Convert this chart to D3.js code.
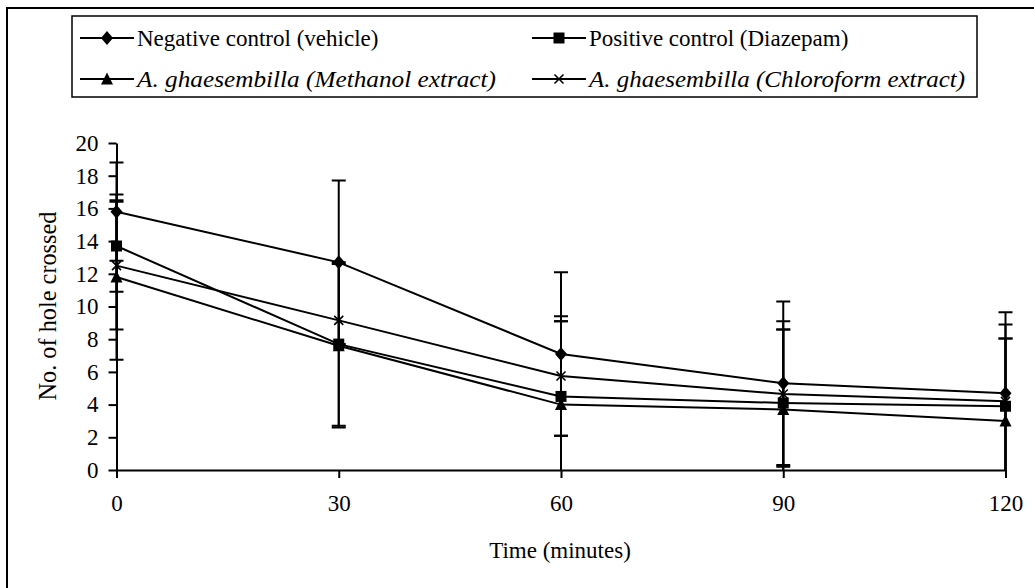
<!DOCTYPE html>
<html>
<head>
<meta charset="utf-8">
<script src="https://cdn.jsdelivr.net/npm/d3@7"></script>
<style>
body { margin: 0; background: #fff; }
text { font-family: "Liberation Serif", "Times New Roman", serif; fill: #000; }
</style>
</head>
<body>
<script>
var times = [0, 30, 60, 90, 120];
var timeTicks = [0, 30, 60, 90, 120];
var countTicks = [0, 2, 4, 6, 8, 10, 12, 14, 16, 18, 20];

var negative = [15.8, 12.7, 7.1, 5.3, 4.7];
var positive = [13.7, 7.7, 4.5, 4.1, 3.9];
var methanol = [11.8, 7.6, 4.0, 3.7, 3.0];
var chloroform = [12.5, 9.15, 5.75, 4.65, 4.2];

var negativeErr = [3.0, 5.0, 5.0, 5.0, 4.95];
var positiveErr = [2.8, 5.0, 4.6, 4.5, 4.15];
var methanolErr = [5.05, 5.0, 5.1, 4.9, 5.05];
var chloroformErr = [3.9, 0, 3.65, 4.45, 4.7];

var seriesNames = ["Negative control (vehicle)", "Positive control (Diazepam)",
	"A. ghaesembilla (Methanol extract)", "A. ghaesembilla (Chloroform extract)"];

var series = [
	{ name: seriesNames[0], values: negative, err: negativeErr, marker: "diamond", italic: false },
	{ name: seriesNames[1], values: positive, err: positiveErr, marker: "square", italic: false },
	{ name: seriesNames[2], values: methanol, err: methanolErr, marker: "triangle", italic: true, len: 359 },
	{ name: seriesNames[3], values: chloroform, err: chloroformErr, marker: "cross", italic: true, len: 376 }
];

var W = 1034, H = 588;
var svg = d3.select("body").append("svg")
	.attr("width", W)
	.attr("height", H);

svg.append("rect").attr("width", W).attr("height", H).attr("fill", "#fff");

// outer frame (only left and top edges show)
svg.append("path")
	.attr("d", "M7," + H + "V8H" + W)
	.attr("fill", "none")
	.attr("stroke", "#000")
	.attr("stroke-width", 2);

var x = d3.scaleLinear().domain([0, 120]).range([116.5, 1005.5]);
var y = d3.scaleLinear().domain([0, 20]).range([470, 143]);

svg.append("defs").append("clipPath").attr("id", "plot-clip")
	.append("rect")
	.attr("x", x(0) - 20).attr("y", y(20) - 1)
	.attr("width", x(120) - x(0) + 40).attr("height", y(0) - y(20) + 1.5);

// marker shapes
function markerPath(type) {
	if (type == "diamond") return "M0,-7L6,0L0,7L-6,0Z";
	if (type == "square") return "M-5.5,-5.5H5.5V5.5H-5.5Z";
	if (type == "triangle") return "M0,-6.5L6,5.5H-6Z";
	return "M-4.5,-4.5L4.5,4.5M-4.5,4.5L4.5,-4.5";
}

function drawMarker(g, type) {
	var p = g.append("path").attr("d", markerPath(type));
	if (type == "cross") {
		p.attr("fill", "none").attr("stroke", "#000").attr("stroke-width", 1.6);
	} else {
		p.attr("fill", "#000").attr("stroke", "none");
	}
}

// axes
var yAxis = d3.axisLeft(y).tickValues(countTicks).tickSize(8).tickSizeOuter(0).tickPadding(10);
var xAxis = d3.axisBottom(x).tickValues(timeTicks).tickSize(8).tickSizeOuter(0).tickPadding(17);

var yG = svg.append("g").attr("transform", "translate(" + x(0) + ",0)").call(yAxis);
var xG = svg.append("g").attr("transform", "translate(0," + y(0) + ")").call(xAxis);

[yG, xG].forEach(function (g) {
	g.select(".domain").attr("stroke", "#000").attr("stroke-width", 2);
	g.selectAll(".tick line").attr("stroke", "#000").attr("stroke-width", 2);
	g.selectAll(".tick text")
		.attr("fill", "#000")
		.style("font-family", '"Liberation Serif", "Times New Roman", serif')
		.style("font-size", "23px");
});

// error bars
var errG = svg.append("g").attr("clip-path", "url(#plot-clip)");
series.forEach(function (s) {
	s.values.forEach(function (v, i) {
		var e = s.err[i];
		if (!e) return;
		var cx = x(times[i]);
		var lo = Math.max(v - e, -0.5), hi = v + e;
		errG.append("line")
			.attr("x1", cx).attr("x2", cx)
			.attr("y1", y(lo)).attr("y2", y(hi))
			.attr("stroke", "#000").attr("stroke-width", 2);
		[v - e, v + e].forEach(function (c) {
			if (c < 0 || c > 20) return;
			errG.append("line")
				.attr("x1", cx - 7).attr("x2", cx + 7)
				.attr("y1", y(c)).attr("y2", y(c))
				.attr("stroke", "#000").attr("stroke-width", 2);
		});
	});
});

// series lines
var line = d3.line()
	.x(function (d, i) { return x(times[i]); })
	.y(function (d) { return y(d); });

series.forEach(function (s) {
	svg.append("path")
		.datum(s.values)
		.attr("d", line)
		.attr("fill", "none")
		.attr("stroke", "#000")
		.attr("stroke-width", 2);
	s.values.forEach(function (v, i) {
		var g = svg.append("g").attr("transform", "translate(" + x(times[i]) + "," + y(v) + ")");
		drawMarker(g, s.marker);
	});
});

// axis titles
svg.append("text")
	.attr("x", 560).attr("y", 550)
	.attr("text-anchor", "middle")
	.attr("dy", ".35em")
	.style("font-size", "23px")
	.text("Time (minutes)");

svg.append("text")
	.attr("transform", "translate(47,306) rotate(-90)")
	.attr("text-anchor", "middle")
	.attr("dy", ".35em")
	.style("font-size", "24.3px")
	.text("No. of hole crossed");

// legend
var legend = svg.append("g");
legend.append("rect")
	.attr("x", 72).attr("y", 16)
	.attr("width", 905).attr("height", 81)
	.attr("fill", "#fff")
	.attr("stroke", "#000")
	.attr("stroke-width", 1.5);

var legendCols = [80, 532];
var legendRows = [38, 79];

series.forEach(function (s, i) {
	var lx = legendCols[i % 2], ly = legendRows[Math.floor(i / 2)];
	var item = legend.append("g").attr("transform", "translate(" + lx + "," + ly + ")");
	item.append("line")
		.attr("x1", 0).attr("x2", 54)
		.attr("stroke", "#000").attr("stroke-width", 2);
	drawMarker(item.append("g").attr("transform", "translate(27,0)"), s.marker);
	var t = item.append("text")
		.attr("x", 57)
		.attr("dy", ".35em")
		.style("font-size", "23px")
		.style("font-style", s.italic ? "italic" : "normal")
		.text(s.name);
	if (s.len) {
		t.attr("textLength", s.len).attr("lengthAdjust", "spacingAndGlyphs");
	}
});
</script>
</body>
</html>
